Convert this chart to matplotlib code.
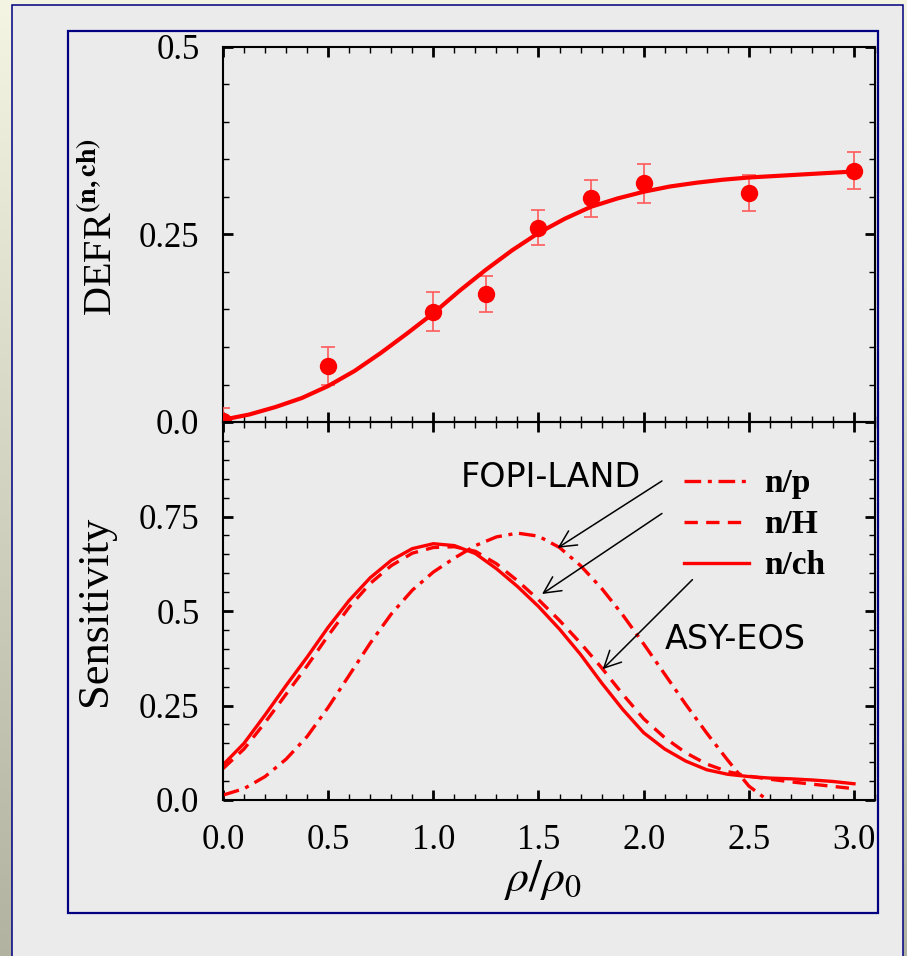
import numpy as np
import matplotlib; matplotlib.use("Agg")
import matplotlib.pyplot as plt
from matplotlib.patches import Rectangle
from matplotlib.ticker import MultipleLocator, FuncFormatter

plt.rcParams.update({"font.family": "Liberation Serif", "mathtext.fontset": "stix"})

# --- top panel: DEFR(n,ch) points and fitted curve
defr_x = [0.0, 0.5, 1.0, 1.25, 1.5, 1.75, 2.0, 2.5, 3.0]
defr_y = [0.002, 0.075, 0.147, 0.171, 0.259, 0.298, 0.318, 0.305, 0.335]
defr_err = [0.017, 0.025, 0.026, 0.024, 0.023, 0.025, 0.026, 0.024, 0.025]

fit_x = [0.0, 0.125, 0.25, 0.375, 0.5, 0.625, 0.75, 0.875, 1.0, 1.125, 1.25, 1.375, 1.5,
         1.625, 1.75, 1.875, 2.0, 2.125, 2.25, 2.375, 2.5, 2.625, 2.75, 2.875, 3.0]
fit_y = [0.003, 0.010, 0.020, 0.032, 0.048, 0.068, 0.092, 0.118, 0.145, 0.175, 0.203, 0.229, 0.252,
         0.271, 0.287, 0.298, 0.307, 0.314, 0.319, 0.323, 0.326, 0.328, 0.330, 0.332, 0.334]

# --- bottom panel: sensitivity curves
rho = [0.0, 0.1, 0.2, 0.3, 0.4, 0.5, 0.6, 0.7, 0.8, 0.9, 1.0, 1.1, 1.2, 1.3, 1.4, 1.5,
       1.6, 1.7, 1.8, 1.9, 2.0, 2.1, 2.2, 2.3, 2.4, 2.5, 2.6, 2.7, 2.8, 2.9, 3.0]
sens_np = [0.013, 0.030, 0.062, 0.108, 0.168, 0.245, 0.330, 0.415, 0.492, 0.555, 0.603, 0.640,
           0.673, 0.696, 0.706, 0.698, 0.668, 0.620, 0.560, 0.490, 0.413, 0.333, 0.253, 0.177,
           0.105, 0.037, -0.005]
sens_nH = [0.083, 0.135, 0.205, 0.280, 0.355, 0.435, 0.510, 0.573, 0.620, 0.653, 0.668, 0.670,
           0.658, 0.625, 0.580, 0.530, 0.475, 0.415, 0.350, 0.280, 0.215, 0.165, 0.125, 0.095,
           0.075, 0.063, 0.055, 0.048, 0.042, 0.036, 0.030]
sens_nch = [0.093, 0.150, 0.225, 0.303, 0.378, 0.457, 0.528, 0.588, 0.634, 0.665, 0.678, 0.673,
            0.652, 0.612, 0.565, 0.512, 0.452, 0.385, 0.310, 0.240, 0.178, 0.135, 0.103, 0.080,
            0.068, 0.062, 0.058, 0.056, 0.053, 0.049, 0.043]

W, H = 907, 956
fig = plt.figure(figsize=(W / 100, H / 100), dpi=100)

# slide background
bg = fig.add_axes([0, 0, 1, 1], zorder=-3)
grad = np.linspace(0, 1, 256)[:, None]
top_c, bot_c = np.array([0.96, 0.96, 0.89]), np.array([0.70, 0.70, 0.63])
bg.imshow(top_c + grad[..., None] * (bot_c - top_c), extent=[0, 1, 0, 1], aspect="auto")
bg.axis("off")

def px(x0, y0, x1, y1):
    return (x0 / W, 1 - y1 / H), (x1 - x0) / W, (y1 - y0) / H

xy, w, h = px(12, 5, 903, 970)
fig.patches.append(Rectangle(xy, w, h, transform=fig.transFigure, facecolor="#ebebeb",
                             edgecolor="#000080", lw=1.1, zorder=-2))
xy, w, h = px(68, 31, 878, 913)
fig.patches.append(Rectangle(xy, w, h, transform=fig.transFigure, facecolor="none",
                             edgecolor="#000080", lw=1.6, zorder=5))

ax1 = fig.add_axes([223 / W, 1 - 422 / H, 652 / W, 375 / H])
ax2 = fig.add_axes([223 / W, 1 - 800 / H, 652 / W, 378 / H], sharex=ax1)

for ax in (ax1, ax2):
    ax.set_facecolor("none")
    for s in ax.spines.values():
        s.set_linewidth(1.5)
    ax.set_xlim(0, 3.1)
    ax.xaxis.set_major_locator(MultipleLocator(0.5))
    ax.xaxis.set_minor_locator(MultipleLocator(0.1))
    ax.yaxis.set_minor_locator(MultipleLocator(0.05))
    ax.tick_params(which="both", direction="in", top=True, right=True)
    ax.tick_params(which="major", length=7, width=2, labelsize=25, pad=17)
    ax.tick_params(which="minor", length=4, width=1)

ylab = FuncFormatter(lambda v, _: "0.0" if v == 0 else f"{v:g}")

ax1.errorbar(defr_x, defr_y, yerr=defr_err, fmt="o", color="red", ms=11.5,
             ecolor="#ff5a5a", elinewidth=1.2, capsize=5, capthick=1.2, zorder=3)
ax1.plot(fit_x, fit_y, color="red", lw=3, zorder=4)
ax1.set_ylim(0, 0.5)
ax1.set_yticks([0, 0.25, 0.5])
ax1.yaxis.set_major_formatter(ylab)
ax1.tick_params(axis="x", labelbottom=False)

ax2.plot(rho[:len(sens_np)], sens_np, color="red", lw=2.4, dashes=(5, 2, 1.2, 2), label="n/p")
ax2.plot(rho, sens_nH, color="red", lw=2.4, dashes=(4, 2.5), label="n/H")
ax2.plot(rho, sens_nch, color="red", lw=2.4, label="n/ch")
ax2.set_ylim(0, 1.0)
ax2.set_yticks([0, 0.25, 0.5, 0.75])
ax2.yaxis.set_major_formatter(ylab)
ax2.xaxis.set_major_formatter(FuncFormatter(lambda v, _: f"{v:.1f}"))

ax2.legend(loc="upper left", bbox_to_anchor=(0.707, 0.877), frameon=False, borderpad=0,
           borderaxespad=0, handlelength=1.95, handletextpad=0.45, labelspacing=0.3,
           prop={"family": "Liberation Serif", "weight": "bold", "size": 24})

arrow = dict(arrowstyle="->,head_length=0.6,head_width=0.3", color="black", lw=1.1,
             shrinkA=0, shrinkB=0, mutation_scale=20)
ax2.annotate("", xy=(1.591, 0.667), xytext=(2.087, 0.844), arrowprops=arrow)
ax2.annotate("", xy=(1.517, 0.545), xytext=(2.087, 0.758), arrowprops=arrow)
ax2.annotate("", xy=(1.805, 0.346), xytext=(2.232, 0.583), arrowprops=arrow)
ax2.text(1.557, 0.852, "FOPI-LAND", family="DejaVu Sans", size=24, ha="center", va="center")
ax2.text(2.435, 0.424, "ASY-EOS", family="DejaVu Sans", size=24, ha="center", va="center")

fig.text(101 / W, 1 - 227 / H, r"DEFR$^{\mathbf{(n,ch)}}$", rotation=90, size=29,
         ha="center", va="center")
fig.text(95 / W, 1 - 611 / H, "Sensitivity", rotation=90, size=32, ha="center", va="center")
fig.text(543 / W, 1 - 880 / H, r"$\rho/\rho_0$", size=33, ha="center", va="center")

fig.savefig("out.png", dpi=100)
